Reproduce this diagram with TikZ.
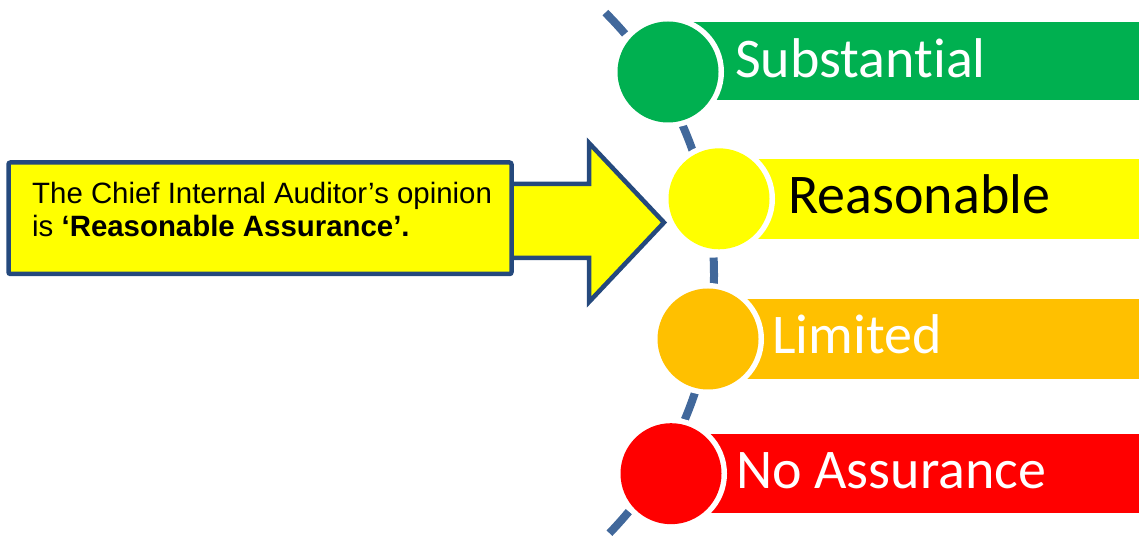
\documentclass[tikz,border=0pt]{standalone}
\usepackage{fontspec}
\newfontfamily\carlfont[RawFeature={-liga;-clig;-calt;-dlig}]{Carlito}
\newfontfamily\arlfont{Liberation Sans}
\definecolor{cgreen}{HTML}{00B050}
\definecolor{cyellow}{HTML}{FFFF00}
\definecolor{corange}{HTML}{FFC000}
\definecolor{cred}{HTML}{FF0000}
\definecolor{arcblue}{HTML}{41689B}
\definecolor{boxblue}{HTML}{25497D}
\tikzset{
  ring/.style={circle, fill=white, inner sep=0pt, minimum size=112pt},
  dot/.style={circle, inner sep=0pt, minimum size=101pt},
  lbl/.style={anchor=base west, inner sep=0pt, font=\carlfont\fontsize{56}{62}\selectfont},
  boxtxt/.style={anchor=base west, inner sep=0pt, font=\arlfont\fontsize{29.4}{33.4}\selectfont},
  arcline/.style={draw=arcblue, line width=8pt, dash pattern=on 29pt off 108pt},
  opbox/.style={draw=boxblue, fill=cyellow, line width=4.5pt, rounded corners=2pt, inner sep=0pt},
  opsarrow/.style={draw=boxblue, fill=cyellow, line width=4.5pt, line join=miter}
}
\begin{document}
\begin{tikzpicture}[x=1pt,y=1pt]
\useasboundingbox (0,0) rectangle (1139,540);
% arrow behind the box
\coordinate (a1) at (480,356);
\coordinate (a2) at (589,356);
\coordinate (a3) at (589,397);
\coordinate (tip) at (664,317.5);
\coordinate (a5) at (589,238);
\coordinate (a6) at (589,282);
\coordinate (a7) at (480,282);
\draw[opsarrow] (a1) -- (a2) -- (a3) -- (tip) -- (a5) -- (a6) -- (a7) -- cycle;
% opinion box
\node[opbox, minimum width=503pt, minimum height=111.5pt] (opinion) at (260,321.75) {};
\node[boxtxt] (line1) at (32,336.7) {The Chief Internal Auditor’s opinion};
\node[boxtxt] (line2) at (32,303.3) {is \textbf{‘Reasonable Assurance’.}};
% dashed arc
\coordinate (arcc) at (343,265);
\draw[arcline] (arcc) ++(45:371) arc[start angle=45, end angle=-45, radius=371];
% bars
\fill[cgreen] (668,518) rectangle (1139,440);
\fill[cyellow] (719,381) rectangle (1139,301);
\fill[corange] (708,241) rectangle (1139,161);
\fill[cred] (671,106) rectangle (1139,27);
% circles
\node[ring] (gring) at (668,468) {};
\node[dot, fill=cgreen] (gdot) at (668,468) {};
\node[ring] (yring) at (719,341.2) {};
\node[dot, fill=cyellow] (ydot) at (719,341.2) {};
\node[ring] (oring) at (708,201) {};
\node[dot, fill=corange] (odot) at (708,201) {};
\node[ring] (rring) at (671,66.3) {};
\node[dot, fill=cred] (rdot) at (671,66.3) {};
% labels
\node[lbl, text=white] (subst) at (735,462.5) {Substantial};
\node[lbl, text=black] (reas) at (788,326.7) {Reasonable};
\node[lbl, text=white] (lim) at (772,186) {Limited};
\node[lbl, text=white] (noas) at (736,51) {No Assurance};
\end{tikzpicture}
\end{document}
